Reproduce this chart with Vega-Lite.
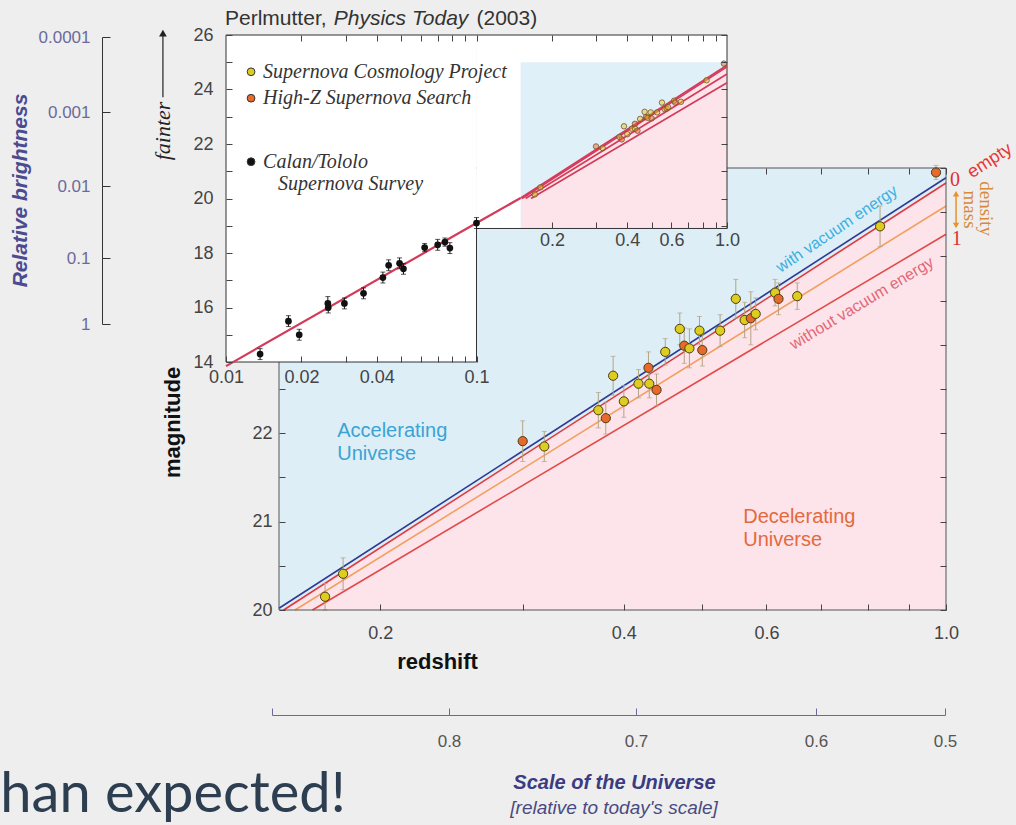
{
"$schema":"https://vega.github.io/schema/vega-lite/v6.json",
"width":1016,"height":825,"autosize":{"type":"none"},"padding":0,
"background":"#eeeeee",
"config":{"view":{"stroke":null},"axis":{"labelFont":"Liberation Sans","titleFont":"Liberation Sans","grid":false,"domain":false,"labelColor":"#444","tickColor":"#444","zindex":1,"labelFlush":false,"labelOverlap":false}},
"datasets":{
"lines":[
{"series":"flat","z":0.165,"m":20.0},{"series":"flat","z":1.0,"m":24.25},
{"series":"half","z":0.157,"m":20.0},{"series":"half","z":1.0,"m":24.57},
{"series":"empty","z":0.152,"m":20.0},{"series":"empty","z":1.0,"m":24.83},
{"series":"vacuum","z":0.15,"m":20.02},{"series":"vacuum","z":1.0,"m":24.89}
],
"snHigh":[
{"survey":"SCP","z":0.171,"m":20.15,"err":0.15},
{"survey":"SCP","z":0.180,"m":20.41,"err":0.18},
{"survey":"HZ","z":0.300,"m":21.91,"err":0.23},
{"survey":"SCP","z":0.319,"m":21.85,"err":0.17},
{"survey":"SCP","z":0.372,"m":22.26,"err":0.20},
{"survey":"HZ","z":0.380,"m":22.17,"err":0.18},
{"survey":"SCP","z":0.388,"m":22.65,"err":0.22},
{"survey":"SCP","z":0.400,"m":22.36,"err":0.18},
{"survey":"SCP","z":0.417,"m":22.56,"err":0.16},
{"survey":"HZ","z":0.429,"m":22.74,"err":0.18},
{"survey":"SCP","z":0.430,"m":22.56,"err":0.16},
{"survey":"HZ","z":0.439,"m":22.49,"err":0.18},
{"survey":"SCP","z":0.450,"m":22.92,"err":0.15},
{"survey":"SCP","z":0.469,"m":23.18,"err":0.18},
{"survey":"HZ","z":0.475,"m":22.99,"err":0.20},
{"survey":"SCP","z":0.482,"m":22.96,"err":0.22},
{"survey":"SCP","z":0.496,"m":23.16,"err":0.16},
{"survey":"HZ","z":0.500,"m":22.94,"err":0.18},
{"survey":"SCP","z":0.526,"m":23.16,"err":0.18},
{"survey":"SCP","z":0.550,"m":23.52,"err":0.22},
{"survey":"SCP","z":0.564,"m":23.28,"err":0.20},
{"survey":"HZ","z":0.574,"m":23.30,"err":0.30},
{"survey":"SCP","z":0.582,"m":23.35,"err":0.18},
{"survey":"SCP","z":0.615,"m":23.59,"err":0.15},
{"survey":"HZ","z":0.621,"m":23.52,"err":0.18},
{"survey":"SCP","z":0.655,"m":23.55,"err":0.15},
{"survey":"SCP","z":0.829,"m":24.34,"err":0.23},
{"survey":"HZ","z":0.972,"m":24.95,"err":0.08}
],
"snLow":[
{"z":0.01368,"m":14.29,"err":0.2},{"z":0.01775,"m":15.5,"err":0.2},{"z":0.0196,"m":15.0,"err":0.2},
{"z":0.0255,"m":16.15,"err":0.25},{"z":0.0256,"m":16.0,"err":0.2},{"z":0.0297,"m":16.15,"err":0.2},
{"z":0.0354,"m":16.52,"err":0.2},{"z":0.0423,"m":17.1,"err":0.2},{"z":0.0446,"m":17.55,"err":0.2},
{"z":0.0493,"m":17.62,"err":0.2},{"z":0.0511,"m":17.42,"err":0.2},{"z":0.0621,"m":18.2,"err":0.15},
{"z":0.0700,"m":18.3,"err":0.2},{"z":0.0748,"m":18.4,"err":0.15},{"z":0.0783,"m":18.18,"err":0.2},
{"z":0.1,"m":19.1,"err":0.2}
],
"insetLow":[{"z":0.01,"m":13.85},{"z":0.1,"m":19.1},{"z":0.15,"m":20.02}]
},
"resolve":{"scale":{"x":"independent","y":"independent"}},
"layer":[
{
"resolve":{"axis":{"x":"independent","y":"independent"}},
"layer":[
{"data":{"values":[{"z1":0.15,"z2":1,"m1":20,"m2":25}]},
 "mark":{"type":"rect","fill":"#ddeef7"},
 "encoding":{
  "x":{"field":"z1","type":"quantitative","scale":{"type":"log","domain":[0.15,1],"range":[279,946],"nice":false},
   "axis":{"orient":"bottom","offset":-215,"values":[0.2,0.3,0.4,0.5,0.6,0.7,0.8,0.9,1],"labelExpr":"indexof([0.2,0.4,0.6,1], datum.value) >= 0 ? format(datum.value, '.1f') : ''","tickSize":-6,"labelPadding":20,"labelFontSize":18,"title":"redshift","titleFontSize":22,"titleFontWeight":"bold","titleColor":"#111","titleX":437,"titleY":51,"titleAlign":"center","titleBaseline":"middle","zindex":1}},
  "x2":{"field":"z2"},
  "y":{"field":"m1","type":"quantitative","scale":{"type":"linear","domain":[20,25],"range":[610,168],"nice":false,"zero":false},
   "axis":{"orient":"left","offset":-279,"values":[20,20.5,21,21.5,22,22.5],"labelExpr":"datum.value % 1 === 0 ? format(datum.value, 'd') : ''","tickSize":-6,"labelPadding":13,"labelFontSize":18,"title":"magnitude","titleFontSize":22,"titleFontWeight":"bold","titleColor":"#111","titleX":-107,"titleY":422,"titleAngle":270,"titleAlign":"center","titleBaseline":"middle","zindex":1}},
  "y2":{"field":"m2"}}},
{"data":{"name":"lines"},"transform":[{"filter":"datum.series === 'empty'"}],
 "mark":{"type":"area","fill":"#fce4ea"},
 "encoding":{
  "x":{"field":"z","type":"quantitative","scale":{"type":"log","domain":[0.15,1],"range":[279,946],"nice":false},
   "axis":{"orient":"top","offset":-168,"values":[0.6,0.7,0.8,0.9,1],"labels":false,"tickSize":-6,"title":null,"zindex":1}},
  "y":{"field":"m","type":"quantitative","scale":{"type":"linear","domain":[20,25],"range":[610,168],"nice":false,"zero":false},
   "axis":{"orient":"right","offset":-70,"values":[20,20.5,21,21.5,22,22.5,23,23.5,24,24.5,25],"labels":false,"tickSize":-6,"title":null,"zindex":1}},
  "y2":{"datum":20}}},
{"data":{"name":"lines"},
 "mark":{"type":"line","strokeWidth":1.6},
 "encoding":{
  "x":{"field":"z","type":"quantitative","scale":{"type":"log","domain":[0.15,1],"range":[279,946],"nice":false},"axis":null},
  "y":{"field":"m","type":"quantitative","scale":{"type":"linear","domain":[20,25],"range":[610,168],"nice":false,"zero":false},"axis":null},
  "stroke":{"field":"series","type":"nominal","scale":{"domain":["vacuum","empty","half","flat"],"range":["#2d3a96","#e03a3e","#f2a060","#e24a48"]},"legend":null}}},
{"data":{"name":"snHigh"},
 "mark":{"type":"errorbar","color":"#b3a383","ticks":true,"thickness":1},
 "encoding":{
  "x":{"field":"z","type":"quantitative","scale":{"type":"log","domain":[0.15,1],"range":[279,946],"nice":false},"axis":null},
  "y":{"field":"m","type":"quantitative","scale":{"type":"linear","domain":[20,25],"range":[610,168],"nice":false,"zero":false},"axis":null},
  "yError":{"field":"err"}}},
{"data":{"name":"snHigh"},
 "mark":{"type":"circle","size":85,"stroke":"#4d3d12","strokeWidth":1,"opacity":1},
 "encoding":{
  "x":{"field":"z","type":"quantitative","scale":{"type":"log","domain":[0.15,1],"range":[279,946],"nice":false},"axis":null},
  "y":{"field":"m","type":"quantitative","scale":{"type":"linear","domain":[20,25],"range":[610,168],"nice":false,"zero":false},"axis":null},
  "fill":{"field":"survey","type":"nominal","scale":{"domain":["SCP","HZ","Calan"],"range":["#dccd1e","#e8692c","#111111"]},"legend":null}}},
{"data":{"values":[{"z1":0.15,"z2":1,"m1":20,"m2":25}]},
 "mark":{"type":"rect","fillOpacity":0,"stroke":"#555555","strokeWidth":1},
 "encoding":{
  "x":{"field":"z1","type":"quantitative","scale":{"type":"log","domain":[0.15,1],"range":[279,946],"nice":false},"axis":null},
  "x2":{"field":"z2"},
  "y":{"field":"m1","type":"quantitative","scale":{"type":"linear","domain":[20,25],"range":[610,168],"nice":false,"zero":false},"axis":null},
  "y2":{"field":"m2"}}},
{"data":{"values":[{"t":"Accelerating","z":0.177,"m":22.02},{"t":"Universe","z":0.177,"m":21.77}]},
 "mark":{"type":"text","align":"left","baseline":"middle","fontSize":20,"font":"Liberation Sans","color":"#3ba3d4"},
 "encoding":{
  "x":{"field":"z","type":"quantitative","scale":{"type":"log","domain":[0.15,1],"range":[279,946],"nice":false},"axis":null},
  "y":{"field":"m","type":"quantitative","scale":{"type":"linear","domain":[20,25],"range":[610,168],"nice":false,"zero":false},"axis":null},
  "text":{"field":"t","type":"nominal"}}},
{"data":{"values":[{"t":"Decelerating","z":0.5617,"m":21.055},{"t":"Universe","z":0.5617,"m":20.79}]},
 "mark":{"type":"text","align":"left","baseline":"middle","fontSize":20,"font":"Liberation Sans","color":"#e36a3d"},
 "encoding":{
  "x":{"field":"z","type":"quantitative","scale":{"type":"log","domain":[0.15,1],"range":[279,946],"nice":false},"axis":null},
  "y":{"field":"m","type":"quantitative","scale":{"type":"linear","domain":[20,25],"range":[610,168],"nice":false,"zero":false},"axis":null},
  "text":{"field":"t","type":"nominal"}}},
{"data":{"values":[{"t":"with vacuum energy","z":0.733,"m":24.31}]},
 "mark":{"type":"text","align":"center","baseline":"middle","fontSize":16,"font":"Liberation Sans","color":"#3cb0e0","angle":326},
 "encoding":{
  "x":{"field":"z","type":"quantitative","scale":{"type":"log","domain":[0.15,1],"range":[279,946],"nice":false},"axis":null},
  "y":{"field":"m","type":"quantitative","scale":{"type":"linear","domain":[20,25],"range":[610,168],"nice":false,"zero":false},"axis":null},
  "text":{"field":"t","type":"nominal"}}},
{"data":{"values":[{"t":"without vacuum energy","z":0.787,"m":23.47}]},
 "mark":{"type":"text","align":"center","baseline":"middle","fontSize":16,"font":"Liberation Sans","color":"#e26878","angle":329},
 "encoding":{
  "x":{"field":"z","type":"quantitative","scale":{"type":"log","domain":[0.15,1],"range":[279,946],"nice":false},"axis":null},
  "y":{"field":"m","type":"quantitative","scale":{"type":"linear","domain":[20,25],"range":[610,168],"nice":false,"zero":false},"axis":null},
  "text":{"field":"t","type":"nominal"}}},
{"data":{"values":[{"t":"0","z":1.026,"m":24.86},{"t":"1","z":1.031,"m":24.2}]},
 "mark":{"type":"text","align":"center","baseline":"middle","fontSize":20,"font":"Liberation Serif","color":"#e03030"},
 "encoding":{
  "x":{"field":"z","type":"quantitative","scale":{"type":"log","domain":[0.15,1],"range":[279,946],"nice":false},"axis":null},
  "y":{"field":"m","type":"quantitative","scale":{"type":"linear","domain":[20,25],"range":[610,168],"nice":false,"zero":false},"axis":null},
  "text":{"field":"t","type":"nominal"}}},
{"data":{"values":[{"t":"empty","z":1.133,"m":25.08}]},
 "mark":{"type":"text","align":"center","baseline":"middle","fontSize":18,"font":"Liberation Sans","color":"#e53838","angle":327},
 "encoding":{
  "x":{"field":"z","type":"quantitative","scale":{"type":"log","domain":[0.15,1],"range":[279,946],"nice":false},"axis":null},
  "y":{"field":"m","type":"quantitative","scale":{"type":"linear","domain":[20,25],"range":[610,168],"nice":false,"zero":false},"axis":null},
  "text":{"field":"t","type":"nominal"}}},
{"data":{"values":[{"t":"mass","z":1.071,"m":24.53},{"t":"density","z":1.119,"m":24.54}]},
 "mark":{"type":"text","align":"center","baseline":"middle","fontSize":19,"font":"Liberation Serif","color":"#d88a3a","angle":90},
 "encoding":{
  "x":{"field":"z","type":"quantitative","scale":{"type":"log","domain":[0.15,1],"range":[279,946],"nice":false},"axis":null},
  "y":{"field":"m","type":"quantitative","scale":{"type":"linear","domain":[20,25],"range":[610,168],"nice":false,"zero":false},"axis":null},
  "text":{"field":"t","type":"nominal"}}},
{"data":{"values":[{"z":1.029,"m1":24.37,"m2":24.69}]},
 "mark":{"type":"rule","color":"#e8922a","strokeWidth":1.5},
 "encoding":{
  "x":{"field":"z","type":"quantitative","scale":{"type":"log","domain":[0.15,1],"range":[279,946],"nice":false},"axis":null},
  "y":{"field":"m1","type":"quantitative","scale":{"type":"linear","domain":[20,25],"range":[610,168],"nice":false,"zero":false},"axis":null},
  "y2":{"field":"m2"}}},
{"data":{"values":[{"z":1.029,"m":24.71,"s":"triangle-up"},{"z":1.029,"m":24.35,"s":"triangle-down"}]},
 "mark":{"type":"point","filled":true,"size":40,"color":"#e8922a","opacity":1},
 "encoding":{
  "x":{"field":"z","type":"quantitative","scale":{"type":"log","domain":[0.15,1],"range":[279,946],"nice":false},"axis":null},
  "y":{"field":"m","type":"quantitative","scale":{"type":"linear","domain":[20,25],"range":[610,168],"nice":false,"zero":false},"axis":null},
  "shape":{"field":"s","type":"nominal","scale":null}}},
{"data":{"values":[{"t":"[relative to today's scale]","z":0.389,"m":17.76}]},
 "mark":{"type":"text","align":"center","baseline":"middle","fontSize":19,"font":"Liberation Sans","fontStyle":"italic","color":"#4a4a82"},
 "encoding":{
  "x":{"field":"z","type":"quantitative","scale":{"type":"log","domain":[0.15,1],"range":[279,946],"nice":false},"axis":null},
  "y":{"field":"m","type":"quantitative","scale":{"type":"linear","domain":[20,25],"range":[610,168],"nice":false,"zero":false},"axis":null},
  "text":{"field":"t","type":"nominal"}}},
{"data":{"values":[{"t":"han expected!","z":0.0679,"m":17.715}]},
 "mark":{"type":"text","align":"left","baseline":"alphabetic","fontSize":56,"font":"Lato","color":"#2c3e50"},
 "encoding":{
  "x":{"field":"z","type":"quantitative","scale":{"type":"log","domain":[0.15,1],"range":[279,946],"nice":false},"axis":null},
  "y":{"field":"m","type":"quantitative","scale":{"type":"linear","domain":[20,25],"range":[610,168],"nice":false,"zero":false},"axis":null},
  "text":{"field":"t","type":"nominal"}}}
]
},
{
"resolve":{"axis":{"x":"independent","y":"independent"}},
"layer":[
{"data":{"values":[{"z1":0.01,"z2":0.1,"m1":14,"m2":26},{"z1":0.1,"z2":1,"m1":18.9,"m2":26}]},
 "mark":{"type":"rect","fill":"#ffffff"},
 "encoding":{
  "x":{"field":"z1","type":"quantitative","scale":{"type":"log","domain":[0.01,1],"range":[226,727],"nice":false},
   "axis":{"orient":"bottom","offset":-463,"values":[0.01,0.02,0.03,0.04,0.05,0.06,0.07,0.08,0.09,0.1],"labelExpr":"indexof([0.01,0.02,0.04,0.1], datum.value) >= 0 ? format(datum.value, '~g') : ''","tickSize":-6,"labelPadding":12,"labelFontSize":18,"title":null,"zindex":1}},
  "x2":{"field":"z2"},
  "y":{"field":"m1","type":"quantitative","scale":{"type":"linear","domain":[14,26],"range":[362,35],"nice":false,"zero":false},
   "axis":{"orient":"left","offset":-226,"values":[14,15,16,17,18,19,20,21,22,23,24,25,26],"labelExpr":"datum.value % 2 === 0 ? format(datum.value, 'd') : ''","tickSize":-6,"labelPadding":19,"labelFontSize":18,"title":null,"zindex":1}},
  "y2":{"field":"m2"}}},
{"data":{"values":[{"z1":0.15,"z2":1,"m1":18.9,"m2":25}]},
 "mark":{"type":"rect","fill":"#e0f0f8"},
 "encoding":{
  "x":{"field":"z1","type":"quantitative","scale":{"type":"log","domain":[0.01,1],"range":[226,727],"nice":false},
   "axis":{"orient":"bottom","offset":-597,"values":[0.2,0.3,0.4,0.5,0.6,0.7,0.8,0.9,1],"labelExpr":"indexof([0.2,0.4,0.6,1], datum.value) >= 0 ? format(datum.value, '.1f') : ''","tickSize":-6,"labelPadding":9,"labelFontSize":18,"title":null,"zindex":1}},
  "x2":{"field":"z2"},
  "y":{"field":"m1","type":"quantitative","scale":{"type":"linear","domain":[14,26],"range":[362,35],"nice":false,"zero":false},
   "axis":{"orient":"right","offset":-289,"values":[19,20,21,22,23,24,25,26],"labels":false,"tickSize":-6,"title":null,"zindex":1}},
  "y2":{"field":"m2"}}},
{"data":{"name":"lines"},"transform":[{"filter":"datum.series === 'empty'"}],
 "mark":{"type":"area","fill":"#fce4ea"},
 "encoding":{
  "x":{"field":"z","type":"quantitative","scale":{"type":"log","domain":[0.01,1],"range":[226,727],"nice":false},"axis":null},
  "y":{"field":"m","type":"quantitative","scale":{"type":"linear","domain":[14,26],"range":[362,35],"nice":false,"zero":false},"axis":null},
  "y2":{"datum":18.9}}},
{"data":{"values":[
  {"z1":0.01,"z2":0.01,"m1":14,"m2":26},{"z1":0.01,"z2":1,"m1":26,"m2":26},{"z1":1,"z2":1,"m1":18.9,"m2":26},
  {"z1":0.01,"z2":0.1,"m1":14,"m2":14},{"z1":0.1,"z2":0.1,"m1":14,"m2":18.9},{"z1":0.1,"z2":1,"m1":18.9,"m2":18.9}]},
 "mark":{"type":"rule","color":"#333333","strokeWidth":1},
 "encoding":{
  "x":{"field":"z1","type":"quantitative","scale":{"type":"log","domain":[0.01,1],"range":[226,727],"nice":false},
   "axis":{"orient":"top","offset":-35,"values":[0.02,0.03,0.04,0.05,0.06,0.07,0.08,0.09,0.1,0.2,0.3,0.4,0.5,0.6,0.7,0.8,0.9],"labels":false,"tickSize":-6,"title":null,"zindex":1}},
  "x2":{"field":"z2"},
  "y":{"field":"m1","type":"quantitative","scale":{"type":"linear","domain":[14,26],"range":[362,35],"nice":false,"zero":false},"axis":null},
  "y2":{"field":"m2"}}},
{"data":{"name":"insetLow"},
 "mark":{"type":"line","strokeWidth":2.2,"color":"#d43a5a"},
 "encoding":{
  "x":{"field":"z","type":"quantitative","scale":{"type":"log","domain":[0.01,1],"range":[226,727],"nice":false},"axis":null},
  "y":{"field":"m","type":"quantitative","scale":{"type":"linear","domain":[14,26],"range":[362,35],"nice":false,"zero":false},"axis":null}}},
{"data":{"name":"lines"},
 "mark":{"type":"line","strokeWidth":1.6,"color":"#d43a5a"},
 "encoding":{
  "x":{"field":"z","type":"quantitative","scale":{"type":"log","domain":[0.01,1],"range":[226,727],"nice":false},"axis":null},
  "y":{"field":"m","type":"quantitative","scale":{"type":"linear","domain":[14,26],"range":[362,35],"nice":false,"zero":false},"axis":null},
  "detail":{"field":"series","type":"nominal"}}},
{"data":{"name":"snLow"},
 "mark":{"type":"errorbar","color":"#111111","ticks":true,"thickness":1},
 "encoding":{
  "x":{"field":"z","type":"quantitative","scale":{"type":"log","domain":[0.01,1],"range":[226,727],"nice":false},"axis":null},
  "y":{"field":"m","type":"quantitative","scale":{"type":"linear","domain":[14,26],"range":[362,35],"nice":false,"zero":false},"axis":null},
  "yError":{"field":"err"}}},
{"data":{"name":"snLow"},
 "mark":{"type":"circle","size":45,"color":"#111111","opacity":1},
 "encoding":{
  "x":{"field":"z","type":"quantitative","scale":{"type":"log","domain":[0.01,1],"range":[226,727],"nice":false},"axis":null},
  "y":{"field":"m","type":"quantitative","scale":{"type":"linear","domain":[14,26],"range":[362,35],"nice":false,"zero":false},"axis":null}}},
{"data":{"name":"snHigh"},
 "mark":{"type":"circle","size":30,"stroke":"#7a5030","strokeWidth":0.8,"fillOpacity":0.5,"opacity":1},
 "encoding":{
  "x":{"field":"z","type":"quantitative","scale":{"type":"log","domain":[0.01,1],"range":[226,727],"nice":false},"axis":null},
  "y":{"field":"m","type":"quantitative","scale":{"type":"linear","domain":[14,26],"range":[362,35],"nice":false,"zero":false},"axis":null},
  "fill":{"field":"survey","type":"nominal","scale":{"domain":["SCP","HZ","Calan"],"range":["#dccd1e","#e8692c","#111111"]},"legend":null}}},
{"data":{"values":[{"survey":"SCP","z":0.01259,"m":24.65},{"survey":"HZ","z":0.01259,"m":23.68},{"survey":"Calan","z":0.01259,"m":21.35}]},
 "mark":{"type":"circle","size":60,"stroke":"#333333","strokeWidth":1,"opacity":1},
 "encoding":{
  "x":{"field":"z","type":"quantitative","scale":{"type":"log","domain":[0.01,1],"range":[226,727],"nice":false},"axis":null},
  "y":{"field":"m","type":"quantitative","scale":{"type":"linear","domain":[14,26],"range":[362,35],"nice":false,"zero":false},"axis":null},
  "fill":{"field":"survey","type":"nominal","scale":{"domain":["SCP","HZ","Calan"],"range":["#dccd1e","#e8692c","#111111"]},"legend":null}}},
{"data":{"values":[{"t":"Supernova Cosmology Project","z":0.01406,"m":24.65},{"t":"High-Z Supernova Search","z":0.01406,"m":23.68},{"t":"Calan/Tololo","z":0.01406,"m":21.35},{"t":"Supernova Survey","z":0.01614,"m":20.53}]},
 "mark":{"type":"text","align":"left","baseline":"middle","fontSize":20,"font":"Liberation Serif","fontStyle":"italic","color":"#333333"},
 "encoding":{
  "x":{"field":"z","type":"quantitative","scale":{"type":"log","domain":[0.01,1],"range":[226,727],"nice":false},"axis":null},
  "y":{"field":"m","type":"quantitative","scale":{"type":"linear","domain":[14,26],"range":[362,35],"nice":false,"zero":false},"axis":null},
  "text":{"field":"t","type":"nominal"}}},
{"data":{"values":[{"t":"Perlmutter,","z":0.00991,"m":26.37},{"t":"(2003)","z":0.1,"m":26.37}]},
 "mark":{"type":"text","align":"left","baseline":"alphabetic","fontSize":21,"font":"Liberation Sans","color":"#333333"},
 "encoding":{
  "x":{"field":"z","type":"quantitative","scale":{"type":"log","domain":[0.01,1],"range":[226,727],"nice":false},"axis":null},
  "y":{"field":"m","type":"quantitative","scale":{"type":"linear","domain":[14,26],"range":[362,35],"nice":false,"zero":false},"axis":null},
  "text":{"field":"t","type":"nominal"}}},
{"data":{"values":[{"t":"Physics Today","z":0.02692,"m":26.37}]},
 "mark":{"type":"text","align":"left","baseline":"alphabetic","fontSize":21,"font":"Liberation Sans","fontStyle":"italic","color":"#333333"},
 "encoding":{
  "x":{"field":"z","type":"quantitative","scale":{"type":"log","domain":[0.01,1],"range":[226,727],"nice":false},"axis":null},
  "y":{"field":"m","type":"quantitative","scale":{"type":"linear","domain":[14,26],"range":[362,35],"nice":false,"zero":false},"axis":null},
  "text":{"field":"t","type":"nominal"}}},
{"data":{"values":[{"t":"fainter","z":0.0056,"m":22.48}]},
 "mark":{"type":"text","align":"center","baseline":"middle","fontSize":22,"font":"Liberation Serif","fontStyle":"italic","color":"#222222","angle":270},
 "encoding":{
  "x":{"field":"z","type":"quantitative","scale":{"type":"log","domain":[0.01,1],"range":[226,727],"nice":false},"axis":null},
  "y":{"field":"m","type":"quantitative","scale":{"type":"linear","domain":[14,26],"range":[362,35],"nice":false,"zero":false},"axis":null},
  "text":{"field":"t","type":"nominal"}}},
{"data":{"values":[{"z":0.0056,"m1":23.72,"m2":26.0}]},
 "mark":{"type":"rule","color":"#222222","strokeWidth":1.2},
 "encoding":{
  "x":{"field":"z","type":"quantitative","scale":{"type":"log","domain":[0.01,1],"range":[226,727],"nice":false},"axis":null},
  "y":{"field":"m1","type":"quantitative","scale":{"type":"linear","domain":[14,26],"range":[362,35],"nice":false,"zero":false},"axis":null},
  "y2":{"field":"m2"}}},
{"data":{"values":[{"z":0.0056,"m":26.07}]},
 "mark":{"type":"point","shape":"triangle-up","filled":true,"size":60,"color":"#222222","opacity":1},
 "encoding":{
  "x":{"field":"z","type":"quantitative","scale":{"type":"log","domain":[0.01,1],"range":[226,727],"nice":false},"axis":null},
  "y":{"field":"m","type":"quantitative","scale":{"type":"linear","domain":[14,26],"range":[362,35],"nice":false,"zero":false},"axis":null}}}
]
},
{"data":{"values":[{"b":1},{"b":0.1},{"b":0.01},{"b":0.001},{"b":0.0001}]},
 "mark":{"type":"point","opacity":0},
 "encoding":{
  "y":{"field":"b","type":"quantitative","scale":{"type":"linear","domain":[0.0001,0.001,0.01,0.1,1],"range":[37,112,186,258,324],"nice":false,"zero":false},
   "axis":{"orient":"left","offset":-102,"values":[0.0001,0.001,0.01,0.1,1],"labelExpr":"format(datum.value, '~g')","tickSize":-8,"labelPadding":20,"labelFontSize":17,"labelColor":"#6b6b9b","domain":true,"domainColor":"#333333","tickColor":"#333333","title":"Relative brightness","titleFontSize":21,"titleFontStyle":"italic","titleFontWeight":"bold","titleColor":"#4b4b8f","titleX":-82,"titleY":190,"titleAngle":270,"titleAlign":"center","titleBaseline":"middle","zindex":1}}}},
{"data":{"values":[{"a":0.5},{"a":0.6},{"a":0.7},{"a":0.8}]},
 "mark":{"type":"point","opacity":0},
 "encoding":{
  "x":{"field":"a","type":"quantitative","scale":{"type":"linear","domain":[0.5,0.6,0.7,0.8,0.895],"range":[945,816,636,449,272],"nice":false,"zero":false},
   "axis":{"orient":"bottom","offset":-110,"values":[0.895,0.8,0.7,0.6,0.5],"labelExpr":"datum.value > 0.85 ? '' : format(datum.value, '.1f')","tickSize":-7,"labelPadding":25,"labelFontSize":17,"labelColor":"#555555","domain":true,"domainColor":"#6a6a9a","tickColor":"#6a6a9a","title":"Scale of the Universe","titleFontSize":20,"titleFontStyle":"italic","titleFontWeight":"bold","titleColor":"#3b3b82","titleX":614,"titleY":67,"titleAlign":"center","titleBaseline":"middle","zindex":1}}}}
]
}
